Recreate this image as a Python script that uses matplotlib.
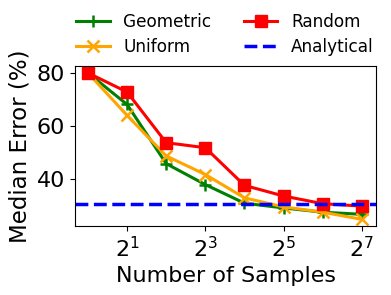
import numpy as np
import matplotlib.pyplot as plt

samples = [1, 2, 4, 8, 16, 32, 64, 128]
geometric = [80, 68.1, 45.8, 37.9, 30.9, 29.1, 27.5, 26.7]
uniform = [80, 64.0, 48.7, 41.7, 32.9, 29.5, 27.5, 24.8]
random_ = [80, 72.8, 53.7, 51.8, 37.6, 33.6, 30.7, 29.8]
analytical = 30.7

fig = plt.figure(figsize=(3.91, 2.95), dpi=100)
ax = fig.add_axes([75 / 391, 1 - 226 / 295, 301 / 391, 160 / 295])

ax.plot(samples, geometric, color='green', marker='+', ms=8, mew=1.8, lw=2.2, label='Geometric')
ax.plot(samples, uniform, color='orange', marker='x', ms=8, mew=1.8, lw=2.2, label='Uniform')
ax.plot(samples, random_, color='red', marker='s', ms=8, lw=2.2, label='Random')
ax.axhline(analytical, color='blue', ls='--', lw=2.5, label='Analytical')

ax.set_xscale('log', base=2)
ax.set_xlim(2 ** -0.33, 2 ** 7.36)
ax.set_ylim(22.3, 82.6)
ax.set_xticks([2, 8, 32, 128])
ax.set_xticklabels(['$2^1$', '$2^3$', '$2^5$', '$2^7$'])
ax.minorticks_off()
ax.set_yticks([40, 60, 80])
ax.tick_params(labelsize=16)
ax.set_xlabel('Number of Samples', fontsize=16)
ax.set_ylabel('Median Error (%)', fontsize=16.5)

fig.legend(ncol=2, frameon=False, fontsize=12.2, loc='center',
           bbox_to_anchor=(0.575, 0.883), columnspacing=1.9,
           handlelength=2.0, handletextpad=0.8, labelspacing=0.45)

fig.savefig('out.png', dpi=100)
